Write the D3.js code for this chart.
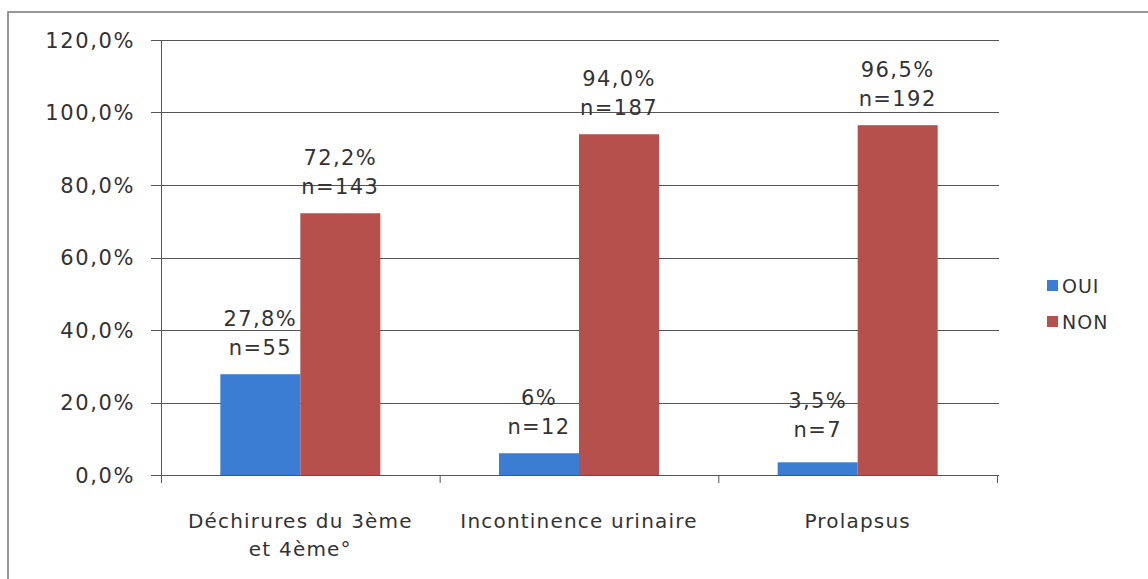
<!DOCTYPE html>
<html><head><meta charset="utf-8">
<script src="https://cdn.jsdelivr.net/npm/d3@7"></script>
<style>body{margin:0;background:#fff}svg{display:block}</style>
</head><body><svg id="c" width="1148" height="579"></svg>
<script>
const categories = [["Déchirures du 3ème","et 4ème°"],["Incontinence urinaire"],["Prolapsus"]];
const series = ["OUI","NON"];
const ouiValues = [27.8, 6, 3.5];
const nonValues = [72.2, 94.0, 96.5];
const ouiLabels = [["27,8%","n=55"],["6%","n=12"],["3,5%","n=7"]];
const nonLabels = [["72,2%","n=143"],["94,0%","n=187"],["96,5%","n=192"]];
const yTicks = [0,20,40,60,80,100,120];
const yTickLabels = ["0,0%","20,0%","40,0%","60,0%","80,0%","100,0%","120,0%"];
const colors = ["#3b7dd2","#b5504c"];

(function(){
const svg = d3.select("#c");
const font = "DejaVu Sans, sans-serif";
const textCol = "#333";
const pLeft = 161, pRight = 997, pTop = 40, pBottom = 475;

svg.append("rect").attr("x",8).attr("y",12).attr("width",1300).attr("height",700)
  .attr("fill","none").attr("stroke","#777").attr("stroke-width",1.5);

const x = d3.scaleBand().domain(d3.range(categories.length)).range([pLeft,pRight]);
const y = d3.scaleLinear().domain([0,120]).range([pBottom,pTop]);
const inner = d3.scaleBand().domain(d3.range(series.length)).range([0,160]);
const groupOffset = (x.bandwidth()-160)/2;

svg.append("g").selectAll("line").data(yTicks).join("line")
  .attr("x1",pLeft-10).attr("x2",pRight+2)
  .attr("y1",d=>Math.round(y(d))+0.5).attr("y2",d=>Math.round(y(d))+0.5)
  .attr("stroke","#555").attr("stroke-width",1);
svg.append("g").selectAll("text").data(yTicks).join("text")
  .attr("x",135).attr("y",d=>y(d)).attr("dy","0.36em")
  .attr("text-anchor","end").attr("font-family",font).attr("font-size",21)
  .attr("letter-spacing",1.6).attr("fill",textCol)
  .text((d,i)=>yTickLabels[i]);
svg.append("line").attr("x1",pLeft+0.5).attr("x2",pLeft+0.5).attr("y1",pTop).attr("y2",pBottom+8)
  .attr("stroke","#555");
svg.append("g").selectAll("line").data(d3.range(categories.length+1)).join("line")
  .attr("x1",d=>pLeft+d*x.step()+0.5).attr("x2",d=>pLeft+d*x.step()+0.5)
  .attr("y1",pBottom).attr("y2",pBottom+8).attr("stroke","#555");

const allVals = [ouiValues, nonValues];
const allLabels = [ouiLabels, nonLabels];
series.forEach((s,si)=>{
  const g = svg.append("g");
  g.selectAll("rect").data(allVals[si]).join("rect")
    .attr("x",(d,i)=>x(i)+groupOffset+inner(si))
    .attr("width",inner.bandwidth())
    .attr("y",d=>y(d)).attr("height",d=>pBottom-y(d))
    .attr("fill",colors[si]);
  const lg = svg.append("g");
  allVals[si].forEach((v,i)=>{
    const cx = x(i)+groupOffset+inner(si)+inner.bandwidth()/2;
    const base = Math.min(y(v)-19, 437);
    lg.append("text").attr("x",cx).attr("y",base-29).attr("text-anchor","middle")
      .attr("font-family",font).attr("font-size",21).attr("letter-spacing",1.4).attr("fill",textCol)
      .text(allLabels[si][i][0]);
    lg.append("text").attr("x",cx).attr("y",base).attr("text-anchor","middle")
      .attr("font-family",font).attr("font-size",21).attr("letter-spacing",1.4).attr("fill",textCol)
      .text(allLabels[si][i][1]);
  });
});

categories.forEach((lines,i)=>{
  lines.forEach((t,li)=>{
    svg.append("text").attr("x",x(i)+x.bandwidth()/2).attr("y",528+li*28)
      .attr("text-anchor","middle").attr("font-family",font).attr("font-size",20)
      .attr("letter-spacing",1.2).attr("fill",textCol).text(t);
  });
});

series.forEach((s,si)=>{
  const ly = 286 + si*36;
  svg.append("rect").attr("x",1047).attr("y",ly-6).attr("width",11).attr("height",11).attr("fill",colors[si]);
  svg.append("text").attr("x",1062).attr("y",ly).attr("dy","0.36em")
    .attr("font-family",font).attr("font-size",19).attr("letter-spacing",1).attr("fill",textCol).text(s);
});
})();
</script></body></html>
